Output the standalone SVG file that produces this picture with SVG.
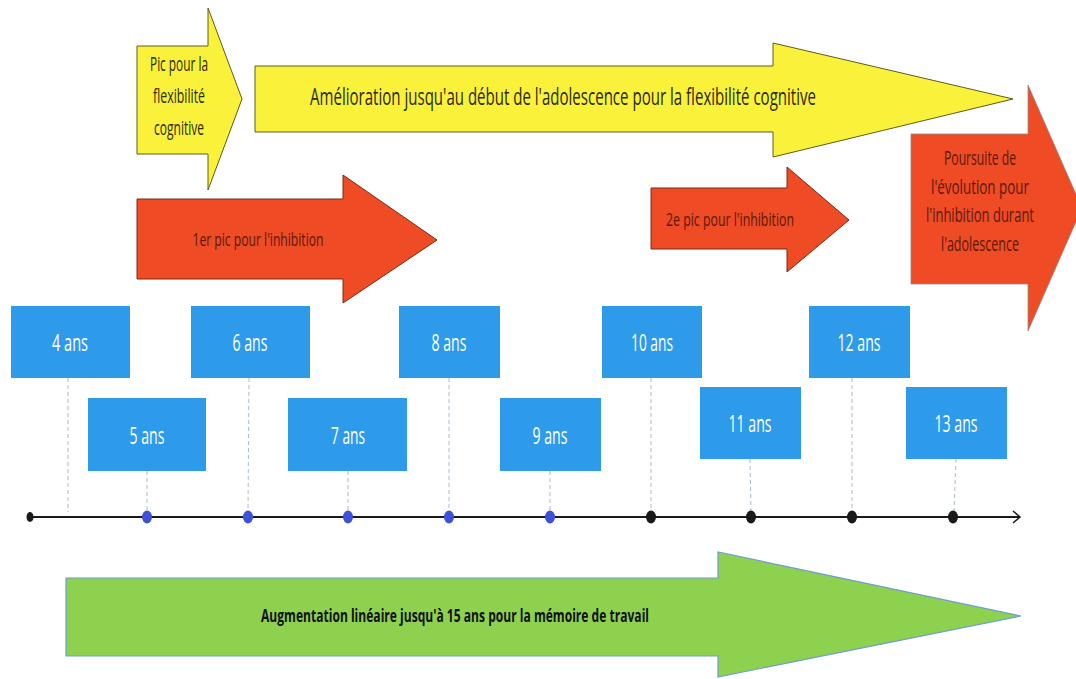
<svg xmlns="http://www.w3.org/2000/svg" width="1076" height="679" viewBox="0 0 1076 679">
<style>
.yel{fill:#FAF23A;stroke:#5e5c1c;stroke-width:1}
.red{fill:#EF4B24;stroke:#7a2a14;stroke-width:1}
.grn{fill:#8ED14F;stroke:#6a9fd0;stroke-width:1.2}
.box{fill:#2E9BEA}
.t{font-family:"Open Sans","Liberation Sans",sans-serif;text-anchor:middle}
.ty{fill:#2b2a10;font-size:20px}
.tr{fill:#5b1a0e;font-size:19px}
.tb{fill:#ffffff;font-size:23px}
.tg{fill:#111;font-size:18px;font-weight:bold}
.dash{stroke:#a9bccc;stroke-width:1;stroke-dasharray:4 3;fill:none}
.bd{fill:#3F51D8}
.kd{fill:#1a1a1a}
</style>
<rect width="1076" height="679" fill="#ffffff"/>

<g id="arrow-pic-flex">
<polygon class="yel" points="137,46 208,46 208,8 242,99 208,190 208,154 137,154"/>
<text class="t ty" x="179" y="71" textLength="58" lengthAdjust="spacingAndGlyphs">Pic pour la</text>
<text class="t ty" x="179" y="103" textLength="52" lengthAdjust="spacingAndGlyphs">flexibilité</text>
<text class="t ty" x="179" y="135" textLength="50" lengthAdjust="spacingAndGlyphs">cognitive</text>
</g>

<g id="arrow-amelioration">
<polygon class="yel" points="255,66 773,66 773,43 1013,99 773,157 773,132 255,132"/>
<text class="t ty" x="563" y="105" style="font-size:24px" textLength="506" lengthAdjust="spacingAndGlyphs">Amélioration jusqu'au début de l'adolescence pour la flexibilité cognitive</text>
</g>

<g id="arrow-pic1-inhib">
<polygon class="red" points="137,199 343,199 343,175 437,240 343,303 343,279 137,279"/>
<text class="t tr" x="258" y="246" textLength="131" lengthAdjust="spacingAndGlyphs">1er pic pour l'inhibition</text>
</g>

<g id="arrow-pic2-inhib">
<polygon class="red" points="651,188 787,188 787,167 849,220 787,272 787,249 651,249"/>
<text class="t tr" x="730" y="226" textLength="128" lengthAdjust="spacingAndGlyphs">2e pic pour l'inhibition</text>
</g>

<g id="arrow-poursuite">
<polygon class="red" style="stroke:#8a8a8a;stroke-width:0.8" points="911,134 1028,134 1028,85 1082,208 1028,331 1028,284 911,284"/>
<text class="t tr" x="980" y="165" style="font-size:20px" textLength="72" lengthAdjust="spacingAndGlyphs">Poursuite de</text>
<text class="t tr" x="980" y="194" style="font-size:20px" textLength="98" lengthAdjust="spacingAndGlyphs">l'évolution pour</text>
<text class="t tr" x="980" y="222" style="font-size:20px" textLength="108" lengthAdjust="spacingAndGlyphs">l'inhibition durant</text>
<text class="t tr" x="980" y="251" style="font-size:20px" textLength="78" lengthAdjust="spacingAndGlyphs">l'adolescence</text>
</g>

<g id="arrow-memoire">
<polygon class="grn" points="66,578 718,578 718,552 1021,616 718,677 718,656 66,656"/>
<text class="t tg" x="455" y="622" textLength="388" lengthAdjust="spacingAndGlyphs">Augmentation linéaire jusqu'à 15 ans pour la mémoire de travail</text>
</g>

<g id="connectors">
<line class="dash" x1="68" y1="378" x2="68" y2="512"/>
<line class="dash" x1="147" y1="471" x2="147" y2="512"/>
<line class="dash" x1="249" y1="378" x2="248" y2="512"/>
<line class="dash" x1="348" y1="471" x2="348" y2="512"/>
<line class="dash" x1="449" y1="378" x2="449" y2="512"/>
<line class="dash" x1="550" y1="471" x2="550" y2="512"/>
<line class="dash" x1="651" y1="378" x2="651" y2="512"/>
<line class="dash" x1="750" y1="459" x2="751" y2="512"/>
<line class="dash" x1="852" y1="378" x2="852" y2="512"/>
<line class="dash" x1="956" y1="459" x2="954" y2="512"/>
<line x1="30" y1="517" x2="1020" y2="517" stroke="#1a1a1a" stroke-width="2"/>
<polyline points="1013,511 1020,517 1013,523" fill="none" stroke="#1a1a1a" stroke-width="1.5"/>
<ellipse class="kd" cx="30" cy="517" rx="3.5" ry="5"/>
<ellipse class="bd" cx="147" cy="517" rx="5" ry="6.5"/>
<ellipse class="bd" cx="248" cy="517" rx="5" ry="6.5"/>
<ellipse class="bd" cx="348" cy="517" rx="5" ry="6.5"/>
<ellipse class="bd" cx="449" cy="517" rx="5" ry="6.5"/>
<ellipse class="bd" cx="550" cy="517" rx="5" ry="6.5"/>
<ellipse class="kd" cx="651" cy="517" rx="5" ry="6.5"/>
<ellipse class="kd" cx="751" cy="517" rx="5" ry="6.5"/>
<ellipse class="kd" cx="852" cy="517" rx="5" ry="6.5"/>
<ellipse class="kd" cx="953" cy="517" rx="5" ry="6.5"/>
</g>

<g id="age-4"><rect class="box" x="11" y="306" width="119" height="72"/><text class="t tb" x="70" y="351" textLength="36" lengthAdjust="spacingAndGlyphs">4 ans</text></g>
<g id="age-5"><rect class="box" x="88" y="398" width="118" height="73"/><text class="t tb" x="147" y="444" textLength="35" lengthAdjust="spacingAndGlyphs">5 ans</text></g>
<g id="age-6"><rect class="box" x="191" y="306" width="119" height="72"/><text class="t tb" x="250" y="351" textLength="35" lengthAdjust="spacingAndGlyphs">6 ans</text></g>
<g id="age-7"><rect class="box" x="288" y="398" width="119" height="73"/><text class="t tb" x="348" y="444" textLength="34" lengthAdjust="spacingAndGlyphs">7 ans</text></g>
<g id="age-8"><rect class="box" x="399" y="306" width="101" height="72"/><text class="t tb" x="449" y="351" textLength="35" lengthAdjust="spacingAndGlyphs">8 ans</text></g>
<g id="age-9"><rect class="box" x="500" y="398" width="101" height="73"/><text class="t tb" x="550" y="444" textLength="35" lengthAdjust="spacingAndGlyphs">9 ans</text></g>
<g id="age-10"><rect class="box" x="602" y="306" width="100" height="72"/><text class="t tb" x="652" y="351" textLength="42" lengthAdjust="spacingAndGlyphs">10 ans</text></g>
<g id="age-11"><rect class="box" x="700" y="387" width="101" height="72"/><text class="t tb" x="750" y="432" textLength="43" lengthAdjust="spacingAndGlyphs">11 ans</text></g>
<g id="age-12"><rect class="box" x="809" y="306" width="101" height="72"/><text class="t tb" x="859" y="351" textLength="43" lengthAdjust="spacingAndGlyphs">12 ans</text></g>
<g id="age-13"><rect class="box" x="906" y="387" width="101" height="72"/><text class="t tb" x="956" y="432" textLength="43" lengthAdjust="spacingAndGlyphs">13 ans</text></g>
</svg>
